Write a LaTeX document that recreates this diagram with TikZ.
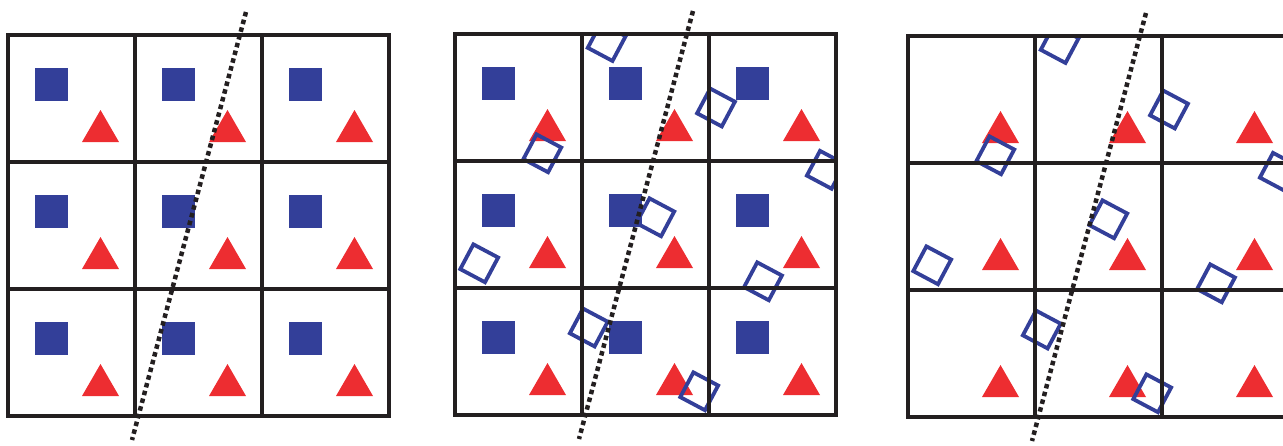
\documentclass[tikz,border=0pt]{standalone}
\usetikzlibrary{positioning}
\definecolor{sqblue}{RGB}{51,63,153}
\definecolor{trired}{RGB}{237,45,49}
\definecolor{inkblack}{RGB}{35,31,32}

\begin{document}
\begin{tikzpicture}[
    x=1pt, y=-1pt,
    gridline/.style={draw=inkblack, line width=3.2pt},
    fullsq/.style={fill=sqblue},
    emptysq/.style={draw=sqblue, line width=3.8pt},
    marker/.style={fill=trired},
    cutline/.style={draw=inkblack, line width=4.5pt, dash pattern=on 4.5pt off 3.5pt}
]
\useasboundingbox (0,0) rectangle (1283,445);
\clip (0,0) rectangle (1283,445);

% Three panels: origin and whether the filled squares are shown
\foreach \px/\py/\full in {8/35/1, 455/34/1, 908/36/0} {
  \begin{scope}[shift={(\px,\py)}]
    % Filled squares and triangles in every cell
    \foreach \i in {0,1,2} {
      \foreach \j in {0,1,2} {
        \ifnum\full=1
          \fill[fullsq] ({127*\i+27},{127*\j+33}) rectangle ++(33,33);
        \fi
        \fill[marker] ({127*\i+74},{127*\j+107}) -- ++(37,0) -- ++(-18.5,-32) -- cycle;
      }
    }
    % Shifted open squares (second and third panel)
    \ifnum\px>400
      \begin{scope}
        \clip (0,0) rectangle (381,381);
        \foreach \cx/\cy in {151.7/8, 87.3/119.3, 261/73.5, 370.8/135.8, 200.3/183.3,
                             24.2/229.3, 308/247.3, 133.8/293.5, 244.2/357.3} {
          \draw[emptysq, rotate around={-28:(\cx,\cy)}] (\cx-14,\cy-14) rectangle (\cx+14,\cy+14);
        }
      \end{scope}
    \fi
    % Grid
    \draw[gridline] (0,0) rectangle (381,381);
    \draw[gridline] (127,0) -- (127,381) (254,0) -- (254,381)
                    (0,127) -- (381,127) (0,254) -- (381,254);
    % Cut line
    \draw[cutline] (238,-23) -- (124,405);
  \end{scope}
}

\end{tikzpicture}
\end{document}
